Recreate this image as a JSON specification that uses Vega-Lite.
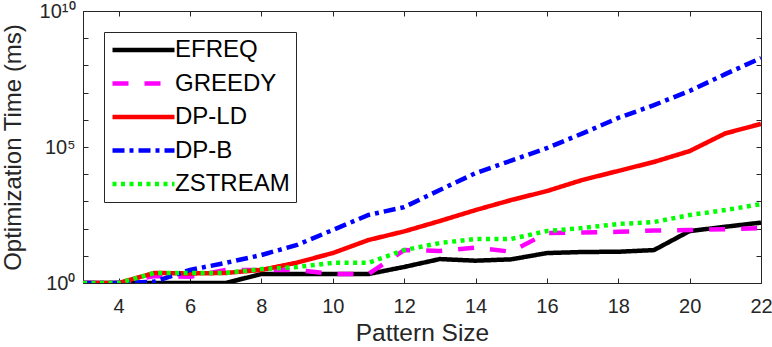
{
  "$schema": "https://vega.github.io/schema/vega-lite/v6.json",
  "width": 678,
  "height": 272,
  "autosize": {"type": "none"},
  "padding": {"left": 83, "top": 11, "right": 11, "bottom": 64},
  "background": "white",
  "config": {
    "view": {"stroke": "#262626", "strokeWidth": 1},
    "font": "Liberation Sans",
    "axis": {"domainColor": "#262626", "tickColor": "#262626", "labelColor": "#262626", "titleColor": "#262626", "grid": false, "labelFont": "Liberation Sans", "titleFont": "Liberation Sans", "titleFontWeight": "normal"}
  },
  "data": {"values": [
    {"x": 3, "series": "EFREQ", "t": 1}, {"x": 4, "series": "EFREQ", "t": 1}, {"x": 5, "series": "EFREQ", "t": 1}, {"x": 6, "series": "EFREQ", "t": 1}, {"x": 7, "series": "EFREQ", "t": 1}, {"x": 8, "series": "EFREQ", "t": 2.14}, {"x": 9, "series": "EFREQ", "t": 2.14}, {"x": 10, "series": "EFREQ", "t": 2.14}, {"x": 11, "series": "EFREQ", "t": 2.14}, {"x": 12, "series": "EFREQ", "t": 3.89}, {"x": 13, "series": "EFREQ", "t": 7.59}, {"x": 14, "series": "EFREQ", "t": 6.61}, {"x": 15, "series": "EFREQ", "t": 7.41}, {"x": 16, "series": "EFREQ", "t": 12.6}, {"x": 17, "series": "EFREQ", "t": 13.8}, {"x": 18, "series": "EFREQ", "t": 14.1}, {"x": 19, "series": "EFREQ", "t": 16.2}, {"x": 20, "series": "EFREQ", "t": 81.3}, {"x": 21, "series": "EFREQ", "t": 117}, {"x": 22, "series": "EFREQ", "t": 166},
    {"x": 3, "series": "GREEDY", "t": 1}, {"x": 4, "series": "GREEDY", "t": 1}, {"x": 5, "series": "GREEDY", "t": 1.8}, {"x": 6, "series": "GREEDY", "t": 1.7}, {"x": 7, "series": "GREEDY", "t": 3.0}, {"x": 8, "series": "GREEDY", "t": 3.0}, {"x": 9, "series": "GREEDY", "t": 3.0}, {"x": 10, "series": "GREEDY", "t": 2.14}, {"x": 11, "series": "GREEDY", "t": 2.14}, {"x": 12, "series": "GREEDY", "t": 16.2}, {"x": 13, "series": "GREEDY", "t": 15.1}, {"x": 14, "series": "GREEDY", "t": 20}, {"x": 15, "series": "GREEDY", "t": 14.1}, {"x": 16, "series": "GREEDY", "t": 69}, {"x": 17, "series": "GREEDY", "t": 72}, {"x": 18, "series": "GREEDY", "t": 76}, {"x": 19, "series": "GREEDY", "t": 85}, {"x": 20, "series": "GREEDY", "t": 89}, {"x": 21, "series": "GREEDY", "t": 95}, {"x": 22, "series": "GREEDY", "t": 105},
    {"x": 3, "series": "DP-LD", "t": 1}, {"x": 4, "series": "DP-LD", "t": 1}, {"x": 5, "series": "DP-LD", "t": 2.34}, {"x": 6, "series": "DP-LD", "t": 2.24}, {"x": 7, "series": "DP-LD", "t": 2.34}, {"x": 8, "series": "DP-LD", "t": 3.02}, {"x": 9, "series": "DP-LD", "t": 5.62}, {"x": 10, "series": "DP-LD", "t": 12.6}, {"x": 11, "series": "DP-LD", "t": 38}, {"x": 12, "series": "DP-LD", "t": 79}, {"x": 13, "series": "DP-LD", "t": 190}, {"x": 14, "series": "DP-LD", "t": 479}, {"x": 15, "series": "DP-LD", "t": 1122}, {"x": 16, "series": "DP-LD", "t": 2399}, {"x": 17, "series": "DP-LD", "t": 6166}, {"x": 18, "series": "DP-LD", "t": 13183}, {"x": 19, "series": "DP-LD", "t": 28184}, {"x": 20, "series": "DP-LD", "t": 70795}, {"x": 21, "series": "DP-LD", "t": 316228}, {"x": 22, "series": "DP-LD", "t": 707946},
    {"x": 3, "series": "DP-B", "t": 1}, {"x": 4, "series": "DP-B", "t": 1}, {"x": 5, "series": "DP-B", "t": 1.12}, {"x": 6, "series": "DP-B", "t": 3.02}, {"x": 7, "series": "DP-B", "t": 5.5}, {"x": 8, "series": "DP-B", "t": 10.7}, {"x": 9, "series": "DP-B", "t": 25.1}, {"x": 10, "series": "DP-B", "t": 89.1}, {"x": 11, "series": "DP-B", "t": 316}, {"x": 12, "series": "DP-B", "t": 617}, {"x": 13, "series": "DP-B", "t": 2630}, {"x": 14, "series": "DP-B", "t": 10965}, {"x": 15, "series": "DP-B", "t": 31623}, {"x": 16, "series": "DP-B", "t": 91201}, {"x": 17, "series": "DP-B", "t": 316228}, {"x": 18, "series": "DP-B", "t": 1174898}, {"x": 19, "series": "DP-B", "t": 3467369}, {"x": 20, "series": "DP-B", "t": 11481536}, {"x": 21, "series": "DP-B", "t": 47863009}, {"x": 22, "series": "DP-B", "t": 186208714},
    {"x": 3, "series": "ZSTREAM", "t": 1}, {"x": 4, "series": "ZSTREAM", "t": 1}, {"x": 5, "series": "ZSTREAM", "t": 2.34}, {"x": 6, "series": "ZSTREAM", "t": 2.34}, {"x": 7, "series": "ZSTREAM", "t": 2.34}, {"x": 8, "series": "ZSTREAM", "t": 3.24}, {"x": 9, "series": "ZSTREAM", "t": 3.89}, {"x": 10, "series": "ZSTREAM", "t": 5.5}, {"x": 11, "series": "ZSTREAM", "t": 5.5}, {"x": 12, "series": "ZSTREAM", "t": 16.2}, {"x": 13, "series": "ZSTREAM", "t": 29.5}, {"x": 14, "series": "ZSTREAM", "t": 41.7}, {"x": 15, "series": "ZSTREAM", "t": 41.7}, {"x": 16, "series": "ZSTREAM", "t": 81.3}, {"x": 17, "series": "ZSTREAM", "t": 105}, {"x": 18, "series": "ZSTREAM", "t": 148}, {"x": 19, "series": "ZSTREAM", "t": 174}, {"x": 20, "series": "ZSTREAM", "t": 316}, {"x": 21, "series": "ZSTREAM", "t": 479}, {"x": 22, "series": "ZSTREAM", "t": 794}
  ]},
  "layer": [
    {
      "mark": {"type": "line", "strokeWidth": 4.5, "clip": true},
      "encoding": {
        "x": {"field": "x", "type": "quantitative", "scale": {"domain": [3, 22], "nice": false, "zero": false},
          "axis": {"orient": "bottom", "values": [4, 6, 8, 10, 12, 14, 16, 18, 20, 22], "tickSize": -5, "labelPadding": 18, "labelFontSize": 20, "labelFlush": false, "labelOverlap": false, "title": "Pattern Size", "titleFontSize": 24.5, "titleY": 57, "titleBaseline": "alphabetic", "domain": true}},
        "y": {"field": "t", "type": "quantitative", "scale": {"type": "log", "domain": [1, 10000000000], "nice": false},
          "axis": {"orient": "left", "values": [1, 10, 100, 1000, 10000, 100000, 1000000, 10000000, 100000000, 1000000000, 10000000000], "labelExpr": "datum.value == 1 ? '10⁰' : datum.value == 100000 ? '10⁵' : datum.value == 10000000000 ? '10¹⁰' : ''", "tickSize": -5, "labelPadding": 13, "labelFontSize": 20, "labelFlush": false, "labelOverlap": false, "title": "Optimization Time (ms)", "titleFontSize": 24, "titleX": -58, "domain": true}},
        "color": {"field": "series", "type": "nominal",
          "scale": {"domain": ["EFREQ", "GREEDY", "DP-LD", "DP-B", "ZSTREAM"], "range": ["#000000", "#FF00FF", "#FF0000", "#0000FF", "#00FF00"]},
          "legend": {"title": null, "orient": "none", "legendX": 21, "legendY": 21, "symbolType": "stroke", "symbolSize": 3844, "symbolStrokeWidth": 4.5, "clipHeight": 24, "labelFontSize": 24, "labelFont": "Liberation Sans", "labelColor": "black", "rowPadding": 9.5, "padding": 6, "labelOffset": -2, "strokeColor": "#262626", "fillColor": "white", "labelExpr": "(datum.value == 'EFREQ' || datum.value == 'GREEDY' ? '\u00a0\u00a0' : '') + datum.label"}},
        "strokeDash": {"field": "series", "type": "nominal",
          "scale": {"domain": ["EFREQ", "GREEDY", "DP-LD", "DP-B", "ZSTREAM"], "range": [[1, 0], [16, 16], [1, 0], [12, 5, 4, 5], [4, 4.5]]},
          "legend": {"title": null, "orient": "none", "legendX": 21, "legendY": 21, "symbolType": "stroke", "symbolSize": 3844, "symbolStrokeWidth": 4.5, "clipHeight": 24, "labelFontSize": 24, "labelFont": "Liberation Sans", "labelColor": "black", "rowPadding": 9.5, "padding": 6, "labelOffset": -2, "strokeColor": "#262626", "fillColor": "white", "labelExpr": "(datum.value == 'EFREQ' || datum.value == 'GREEDY' ? '\u00a0\u00a0' : '') + datum.label"}}
      }
    },
    {
      "mark": {"type": "point", "opacity": 0},
      "encoding": {
        "x": {"field": "x", "type": "quantitative",
          "axis": {"orient": "top", "values": [4, 6, 8, 10, 12, 14, 16, 18, 20, 22], "tickSize": -5, "labels": false, "title": null, "domain": true}},
        "y": {"field": "t", "type": "quantitative",
          "axis": {"orient": "right", "values": [1, 10, 100, 1000, 10000, 100000, 1000000, 10000000, 100000000, 1000000000, 10000000000], "tickSize": -5, "labels": false, "title": null, "domain": true}}
      }
    }
  ],
  "resolve": {"axis": {"x": "independent", "y": "independent"}}
}
